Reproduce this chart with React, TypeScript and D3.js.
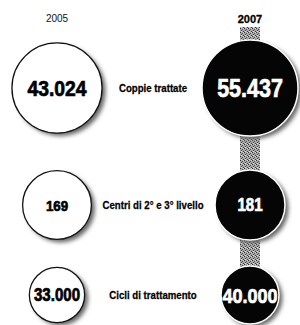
import React from "react";
import * as d3 from "d3";

const years = ["2005", "2007"];
const categories = ["Coppie trattate", "Centri di 2° e 3° livello", "Cicli di trattamento"];
const values2005 = [43024, 169, 33000];
const values2007 = [55437, 181, 40000];

const W = 300;
const H = 325;
const itLocale = d3.formatLocale({ decimal: ",", thousands: ".", grouping: [3], currency: ["€", ""] });
const fmt = itLocale.format(",d");

const rowMaxR = [48, 35, 29];
const fontSizes = [
  [22.5, 25],
  [15.5, 17.5],
  [17.5, 21],
];
const condense = 0.86;

export default function App() {
  const x = d3.scalePoint<string>().domain(years).range([57, 250]);
  const y = d3.scaleOrdinal<string, number>().domain(categories).range([88, 205, 295]);
  const labelX = 153;

  const rows = categories.map((c, i) => {
    const vals = [values2005[i], values2007[i]];
    const r = d3.scalePow().exponent(0.25).domain([0, d3.max(vals) as number]).range([0, rowMaxR[i]]);
    return { c, i, vals, r };
  });

  const lastY = y(categories[categories.length - 1]);
  const x07 = x("2007") as number;

  return (
    <svg width={W} height={H} style={{ position: "absolute", left: 0, top: 0, background: "#fff" }}>
      <defs>
        <filter id="sh" x="-30%" y="-30%" width="160%" height="160%">
          <feGaussianBlur stdDeviation="2.2" />
        </filter>
        <pattern id="stip" width="4" height="4" patternUnits="userSpaceOnUse">
          <rect width="4" height="4" fill="#a8a8a8" />
          <rect x="0" y="0" width="1" height="1" fill="#333" />
          <rect x="2" y="1" width="1" height="1" fill="#555" />
          <rect x="1" y="2" width="1" height="1" fill="#444" />
          <rect x="3" y="3" width="1" height="1" fill="#3a3a3a" />
          <rect x="3" y="0" width="1" height="1" fill="#d8d8d8" />
          <rect x="1" y="3" width="1" height="1" fill="#ddd" />
        </pattern>
      </defs>

      {/* connector for 2007 */}
      <rect x={x07 - 10} y={27} width={20} height={lastY - 27} fill="url(#stip)" />

      {/* year headers */}
      <text x={x("2005")} y={22} textAnchor="middle" fontFamily="'Liberation Sans', Arial, sans-serif" fontSize={10} fill="#111">
        2005
      </text>
      <text
        x={x07}
        y={22.5}
        textAnchor="middle"
        fontFamily="'Liberation Sans', Arial, sans-serif"
        fontWeight="bold"
        fontSize={11}
        fill="#000"
        stroke="#000"
        strokeWidth={0.3}
      >
        2007
      </text>

      {rows.map(({ c, i, vals, r }) => {
        const cy = y(c);
        return (
          <g key={c}>
            {years.map((yr, j) => {
              const cx = x(yr) as number;
              const rad = r(vals[j]);
              const dark = j === 1;
              return (
                <g key={yr}>
                  <circle cx={cx + 3.5} cy={cy + 3} r={rad} fill="#666" filter="url(#sh)" />
                  <circle
                    cx={cx}
                    cy={cy}
                    r={rad}
                    fill={dark ? "#050505" : "#fff"}
                    stroke={dark ? "#fff" : "#111"}
                    strokeWidth={dark ? 1.5 : 1.3}
                  />
                  <g transform={`translate(${cx},${cy}) scale(${condense},1)`}>
                    <text
                      x={0}
                      y={0}
                      dy="0.36em"
                      textAnchor="middle"
                      fontFamily="'Liberation Sans', Arial, sans-serif"
                      fontWeight="bold"
                      fontSize={fontSizes[i][j]}
                      fill={dark ? "#fff" : "#000"}
                      stroke={dark ? "#fff" : "#000"}
                      strokeWidth={0.7}
                    >
                      {fmt(vals[j])}
                    </text>
                  </g>
                </g>
              );
            })}
            <g transform={`translate(${labelX},${cy}) scale(0.92,1)`}>
              <text
                x={0}
                y={0}
                dy="0.36em"
                textAnchor="middle"
                fontFamily="'Liberation Sans', Arial, sans-serif"
                fontWeight="bold"
                fontSize={10.5}
                fill="#000"
                stroke="#000"
                strokeWidth={0.25}
              >
                {c}
              </text>
            </g>
          </g>
        );
      })}
    </svg>
  );
}
